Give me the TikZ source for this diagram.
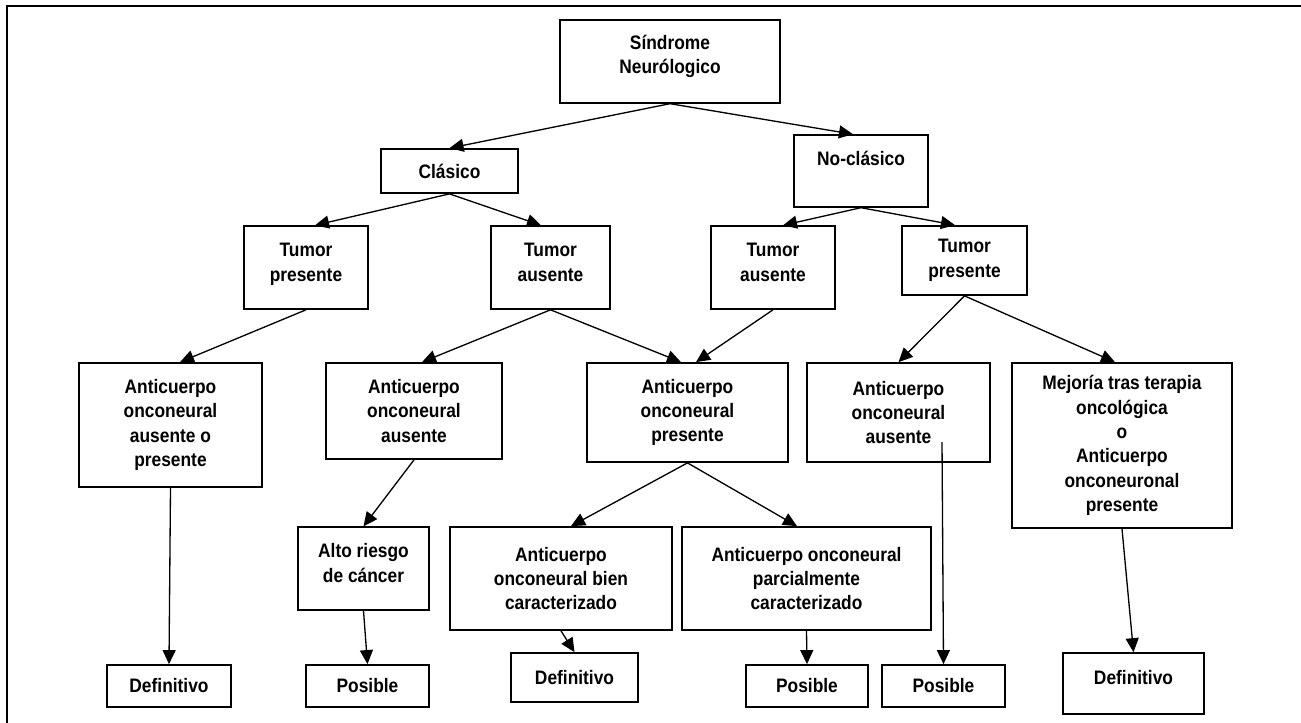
\documentclass[tikz,border=0pt]{standalone}
\usepackage{fontspec}
\setmainfont{Liberation Sans}[FakeStretch=0.89]
\usetikzlibrary{arrows.meta,calc}

\begin{document}
\begin{tikzpicture}[x=0.02cm, y=-0.02cm, >={Triangle[length=8pt,width=7.4pt]},
    caja/.style 2 args={draw, line width=1pt, align=center, inner sep=0pt,
        font=\fontsize{11.1}{13.9}\selectfont\bfseries,
        minimum width=#1*0.02cm, minimum height=#2*0.02cm},
    flecha/.style={->, line width=0.75pt}]
        \useasboundingbox (0,0) rectangle (1301,723);
        \draw[line width=1.5pt] (7,723) -- (7,6) -- (1301,6);
        \node[caja={220}{0}, anchor=base, text height=30.6pt, text depth=16.4pt] (sind) at (670,74) {Síndrome\\Neurólogico};
        \node[caja={137}{44}] (clas) at (449.5,171) {Clásico};
        \node[caja={134}{0}, anchor=base, text height=17pt, text depth=23.8pt] (nocl) at (861,165) {No-clásico};
        \node[caja={124}{0}, anchor=base, text height=31.2pt, text depth=15.9pt] (tp1) at (306,281) {Tumor\\presente};
        \node[caja={119}{0}, anchor=base, text height=31.2pt, text depth=15.9pt] (ta1) at (550.5,281) {Tumor\\ausente};
        \node[caja={124}{0}, anchor=base, text height=31.2pt, text depth=15.9pt] (ta2) at (773,281) {Tumor\\ausente};
        \node[caja={125}{69}] (tp2) at (964.5,260.5) {Tumor\\presente};
        \node[caja={183}{124}] (ac1) at (170.5,425) {Anticuerpo\\onconeural\\ausente o\\presente};
        \node[caja={176}{96}] (ac2) at (414,411) {Anticuerpo\\onconeural\\ausente};
        \node[caja={201}{99}] (ac3) at (687.5,412.5) {Anticuerpo\\onconeural\\presente};
        \node[caja={183}{99}] (ac4) at (898.5,412.5) {Anticuerpo\\onconeural\\ausente};
        \node[caja={220}{165}] (mej) at (1122,445.5) {Mejoría tras terapia\\oncológica\\o\\Anticuerpo\\onconeuronal\\presente};
        \node[caja={131}{0}, anchor=base, text height=31.2pt, text depth=15.9pt] (alto) at (363.5,582) {Alto riesgo\\de cáncer};
        \node[caja={222}{103}] (bien) at (561,578.5) {Anticuerpo\\onconeural bien\\caracterizado};
        \node[caja={249}{103}] (parc) at (806.5,578.5) {Anticuerpo onconeural\\parcialmente\\caracterizado};
        \node[caja={124}{42}] (def1) at (169,686) {Definitivo};
        \node[caja={123}{42}] (pos1) at (367.5,686) {Posible};
        \node[caja={127}{49}] (def2) at (574.5,677.5) {Definitivo};
        \node[caja={122}{42}] (pos2) at (807,686) {Posible};
        \node[caja={123}{42}] (pos3) at (943.5,686) {Posible};
        \node[caja={141}{0}, anchor=base, text height=17.6pt, text depth=17pt] (def3) at (1133.5,684) {Definitivo};
        \coordinate (ac4in) at (942,442);
        \draw[flecha] (sind.south) -- (clas.north);
        \draw[flecha] (sind.south) -- ($(nocl.north)+(-8,0)$);
        \draw[flecha] (clas.south) -- ($(tp1.north)+(9,0)$);
        \draw[flecha] (clas.south) -- ($(ta1.north)+(-9.5,0)$);
        \draw[flecha] (nocl.south) -- ($(ta2.north)+(10,0)$);
        \draw[flecha] (nocl.south) -- ($(tp2.north)+(-9.5,0)$);
        \draw[flecha] (tp1.south) -- ($(ac1.north)+(9.5,0)$);
        \draw[flecha] (ta1.south) -- ($(ac2.north)+(8,0)$);
        \draw[flecha] (ta1.south) -- ($(ac3.north)+(-6.5,0)$);
        \draw[flecha] (ta2.south) -- ($(ac3.north)+(8.5,0)$);
        \draw[flecha] (tp2.south) -- (ac4.north);
        \draw[flecha] (tp2.south) -- ($(mej.north)+(-7,0)$);
        \draw[flecha] (ac1.south) -- (def1.north);
        \draw[flecha] (ac2.south) -- (alto.north);
        \draw[flecha] (ac3.south) -- ($(bien.north)+(10,0)$);
        \draw[flecha] (ac3.south) -- ($(parc.north)+(-9.5,0)$);
        \draw[flecha] (ac4in) -- (pos3.north);
        \draw[flecha] (alto.south) -- (pos1.north);
        \draw[flecha] (bien.south) -- (def2.north);
        \draw[flecha] (parc.south) -- (pos2.north);
        \draw[flecha] (mej.south) -- (def3.north);
    \end{tikzpicture}
\end{document}
